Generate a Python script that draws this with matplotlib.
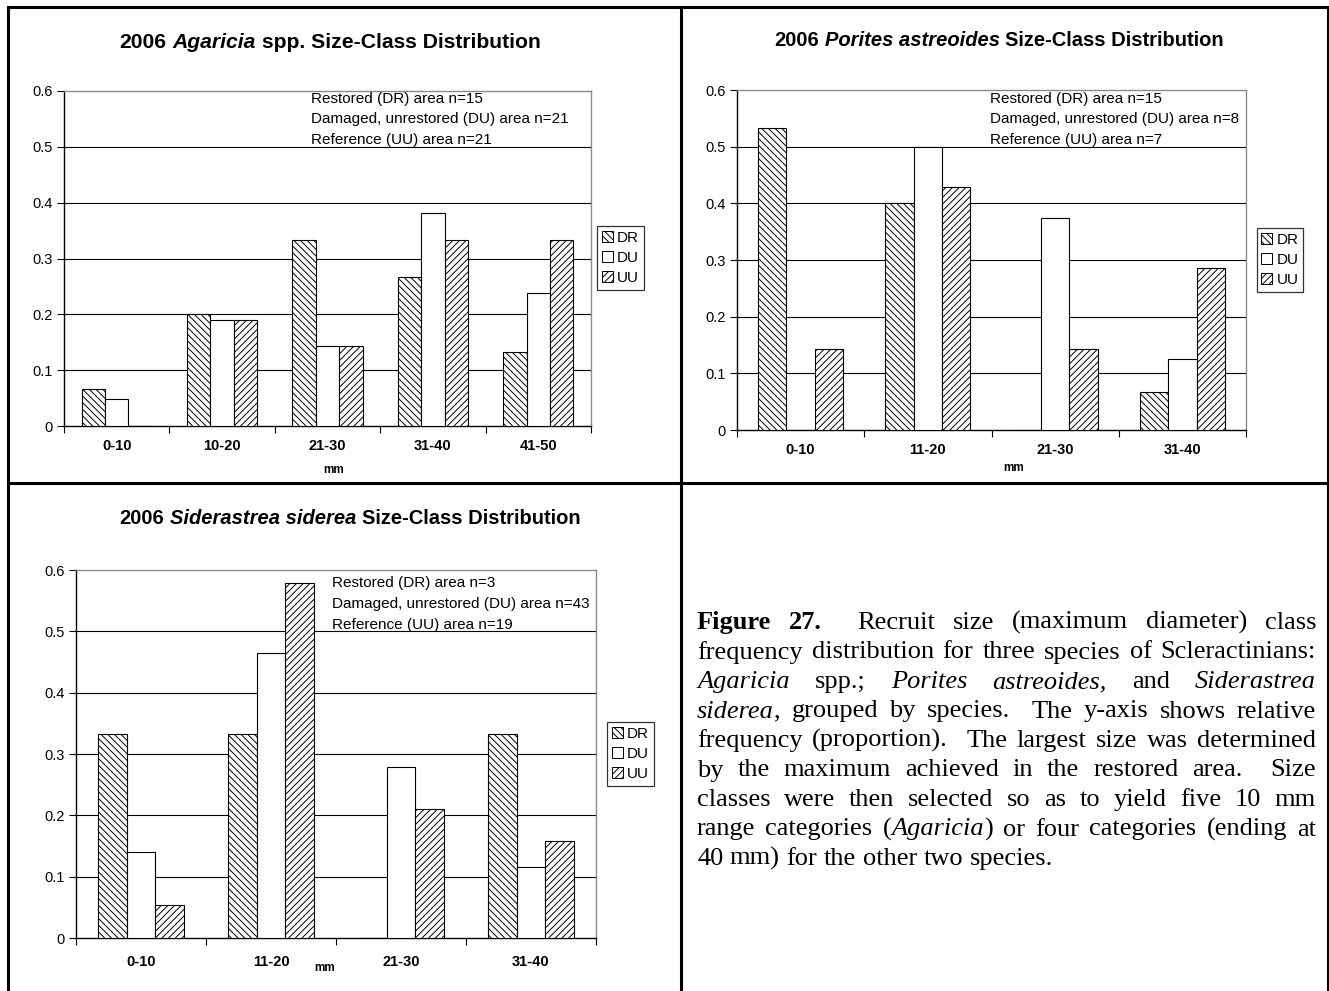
import re
import matplotlib
matplotlib.use('Agg')
import matplotlib.pyplot as plt
import numpy as np
from matplotlib.patches import Patch
from matplotlib.lines import Line2D

W, H = 1329, 991
plt.rcParams['font.family'] = ['Liberation Sans', 'DejaVu Sans']
plt.rcParams['hatch.linewidth'] = 0.7

# ---------------- data ----------------
series = ['DR', 'DU', 'UU']
series_desc = ['Restored (DR) area', 'Damaged, unrestored (DU) area', 'Reference (UU) area']

agaricia_cats = ['0-10', '10-20', '21-30', '31-40', '41-50']
agaricia_dr = [0.067, 0.200, 0.333, 0.267, 0.133]
agaricia_du = [0.048, 0.190, 0.143, 0.381, 0.238]
agaricia_uu = [0.000, 0.190, 0.143, 0.333, 0.333]
agaricia_n = [15, 21, 21]

porites_cats = ['0-10', '11-20', '21-30', '31-40']
porites_dr = [0.533, 0.400, 0.000, 0.067]
porites_du = [0.000, 0.500, 0.375, 0.125]
porites_uu = [0.143, 0.429, 0.143, 0.286]
porites_n = [15, 8, 7]

siderastrea_cats = ['0-10', '11-20', '21-30', '31-40']
siderastrea_dr = [0.333, 0.333, 0.000, 0.333]
siderastrea_du = [0.140, 0.465, 0.279, 0.116]
siderastrea_uu = [0.053, 0.579, 0.211, 0.158]
siderastrea_n = [3, 43, 19]

y_ticks = [0, 0.1, 0.2, 0.3, 0.4, 0.5, 0.6]
y_tick_labels = ['0', '0.1', '0.2', '0.3', '0.4', '0.5', '0.6']
x_title = 'mm'

caption_lines = [
    "**Figure** **27.**  Recruit size (maximum diameter) class",
    "frequency distribution for three species of Scleractinians:",
    "*Agaricia* spp.; *Porites* *astreoides,* and *Siderastrea*",
    "*siderea*, grouped by species.  The y-axis shows relative",
    "frequency (proportion).  The largest size was determined",
    "by the maximum achieved in the restored area.  Size",
    "classes were then selected so as to yield five 10 mm",
    "range categories (*Agaricia*) or four categories (ending at",
    "40 mm) for the other two species.",
]

# ---------------- figure ----------------
fig = plt.figure(figsize=(W / 100, H / 100), dpi=100)
fig.patch.set_facecolor('white')
renderer = fig.canvas.get_renderer()


def fx(x):
    return x / W


def fy(y):
    return 1 - y / H


STYLES = {
    'r': dict(fontweight='normal', fontstyle='normal'),
    'b': dict(fontweight='bold', fontstyle='normal'),
    'i': dict(fontweight='normal', fontstyle='italic'),
    'bi': dict(fontweight='bold', fontstyle='italic'),
}


def text_w(s, style, size, family):
    if s == '':
        return 0.0
    t = fig.text(0, 0, s, fontsize=size, family=family, **STYLES[style])
    w = t.get_window_extent(renderer).width
    t.remove()
    return w


def space_w(style, size, family):
    return text_w('a a', style, size, family) - text_w('aa', style, size, family)


def draw_runs(runs, x, y, size, family, ha='center', va='baseline'):
    pieces = []
    total = 0.0
    for txt, st in runs:
        core = txt.strip(' ')
        lead = len(txt) - len(txt.lstrip(' '))
        trail = len(txt) - len(txt.rstrip(' '))
        sw = space_w(st, size, family)
        cw = text_w(core, st, size, family)
        pieces.append((core, st, lead * sw, cw, trail * sw))
        total += lead * sw + cw + trail * sw
    cx = x - total / 2 if ha == 'center' else x
    for core, st, lw_, cw, tw in pieces:
        cx += lw_
        fig.text(fx(cx), fy(y), core, fontsize=size, family=family,
                 ha='left', va=va, **STYLES[st])
        cx += cw + tw


def parse_word(word):
    segs = []
    for m in re.finditer(r'\*\*(.+?)\*\*|\*(.+?)\*|([^*]+)', word):
        if m.group(1) is not None:
            segs.append((m.group(1), 'b'))
        elif m.group(2) is not None:
            segs.append((m.group(2), 'i'))
        else:
            segs.append((m.group(3), 'r'))
    return segs


def draw_justified(lines, x0, x1, y0, dy, size, family):
    for li, line in enumerate(lines):
        tokens = line.split(' ')
        words, weights, pending = [], [], 0
        for tok in tokens:
            if tok == '':
                pending += 1
                continue
            if words:
                weights.append(1 + pending)
            pending = 0
            words.append(parse_word(tok))
        widths = [[text_w(s, st, size, family) for s, st in wd] for wd in words]
        total = sum(sum(w) for w in widths)
        last = (li == len(lines) - 1)
        if last or not weights:
            unit = space_w('r', size, family)
        else:
            unit = ((x1 - x0) - total) / sum(weights)
        cx = x0
        y = y0 + li * dy
        for wi, wd in enumerate(words):
            for (s, st), w in zip(wd, widths[wi]):
                fig.text(fx(cx), fy(y), s, fontsize=size, family=family,
                         ha='left', va='baseline', **STYLES[st])
                cx += w
            if wi < len(weights):
                cx += unit * weights[wi]


hatches = ['\\\\\\\\\\', '', '/////']


def make_chart(box, cats, dr, du, uu, ns, title_runs, title_xy, title_size,
               legend_box, note_xy, note_dy, mm_xy, cat_pad):
    left, top, right, bottom = box
    ax = fig.add_axes([fx(left), fy(bottom), fx(right) - fx(left), fy(top) - fy(bottom)])
    x = np.arange(len(cats))
    bw = 1 / 4.5
    vals = [dr, du, uu]
    for k in range(3):
        ax.bar(x + (k - 1) * bw, vals[k], width=bw, facecolor='white',
               edgecolor='black', linewidth=0.8, hatch=hatches[k], zorder=3)
    ax.set_xlim(-0.5, len(cats) - 0.5)
    ax.set_ylim(0, 0.6)
    ax.set_yticks(y_ticks)
    ax.set_yticklabels(y_tick_labels, fontsize=10.5)
    ax.set_xticks(np.arange(len(cats) + 1) - 0.5)
    ax.set_xticklabels([''] * (len(cats) + 1))
    ax.set_xticks(x, minor=True)
    ax.set_xticklabels(cats, minor=True, fontsize=10.5, fontweight='bold')
    ax.tick_params(axis='x', which='minor', length=0, pad=cat_pad)
    ax.tick_params(axis='x', which='major', length=5, width=0.8, direction='out')
    ax.tick_params(axis='y', length=5, width=0.8, direction='out', pad=3)
    ax.yaxis.grid(True, color='black', linewidth=0.8)
    ax.set_axisbelow(True)
    ticks = ax.yaxis.get_major_ticks()
    ticks[0].gridline.set_visible(False)
    ticks[-1].gridline.set_visible(False)
    for s in ['left', 'bottom']:
        ax.spines[s].set_color('black')
        ax.spines[s].set_linewidth(1.0)
    for s in ['top', 'right']:
        ax.spines[s].set_color('#8a8a8a')
        ax.spines[s].set_linewidth(1.0)
    draw_runs(title_runs, title_xy[0], title_xy[1], title_size,
              ['Liberation Sans', 'DejaVu Sans'], ha='center', va='center')
    for i in range(3):
        fig.text(fx(note_xy[0]), fy(note_xy[1] + i * note_dy),
                 f'{series_desc[i]} n={ns[i]}', fontsize=11, ha='left', va='center')
    fig.text(fx(mm_xy[0]), fy(mm_xy[1]), x_title, fontsize=8.5, fontweight='bold',
             ha='center', va='center')
    handles = [Patch(facecolor='white', edgecolor='black', linewidth=0.7, hatch=hatches[k])
               for k in range(3)]
    lx0, ly0, lx1, ly1 = legend_box
    leg = ax.legend(handles, series, loc='center', fontsize=11,
                    bbox_to_anchor=(fx((lx0 + lx1) / 2), fy((ly0 + ly1) / 2)),
                    bbox_transform=fig.transFigure, frameon=True, fancybox=False,
                    handlelength=0.7, handleheight=0.7, handletextpad=0.3,
                    borderpad=0.3, labelspacing=0.4, borderaxespad=0)
    leg.get_frame().set_edgecolor('black')
    leg.get_frame().set_linewidth(0.9)
    return ax


make_chart((64, 91, 591, 426), agaricia_cats, agaricia_dr, agaricia_du, agaricia_uu,
           agaricia_n,
           [('2006 ', 'b'), ('Agaricia', 'bi'), (' spp. Size-Class Distribution', 'b')],
           (330, 42), 15.2, (597, 221, 644, 295), (311, 99), 20.5, (334, 470), 9)

make_chart((737, 90, 1246, 430), porites_cats, porites_dr, porites_du, porites_uu,
           porites_n,
           [('2006 ', 'b'), ('Porites astreoides', 'bi'), (' Size-Class Distribution', 'b')],
           (999, 41), 14.5, (1257, 224, 1303, 296), (990, 99), 20.5, (1014, 468), 9)

make_chart((76, 570, 596, 938), siderastrea_cats, siderastrea_dr, siderastrea_du,
           siderastrea_uu, siderastrea_n,
           [('2006 ', 'b'), ('Siderastrea siderea', 'bi'), (' Size-Class Distribution', 'b')],
           (350, 519), 14.5, (607, 717, 654, 791), (332, 583), 21, (325, 968), 12)

# caption
draw_justified(caption_lines, 697, 1316, 629, 29.5, 19, ['Liberation Serif', 'DejaVu Serif'])

# panel borders
blw = 2.2
for (xa, ya, xb, yb) in [(8, 7, 1328, 7), (8, 7, 8, 991), (1328, 7, 1328, 991),
                         (681, 7, 681, 991), (8, 483, 1328, 483)]:
    fig.add_artist(Line2D([fx(xa), fx(xb)], [fy(ya), fy(yb)], color='black',
                          linewidth=blw, transform=fig.transFigure,
                          solid_capstyle='projecting'))

fig.savefig('out.png', dpi=100, facecolor='white')
